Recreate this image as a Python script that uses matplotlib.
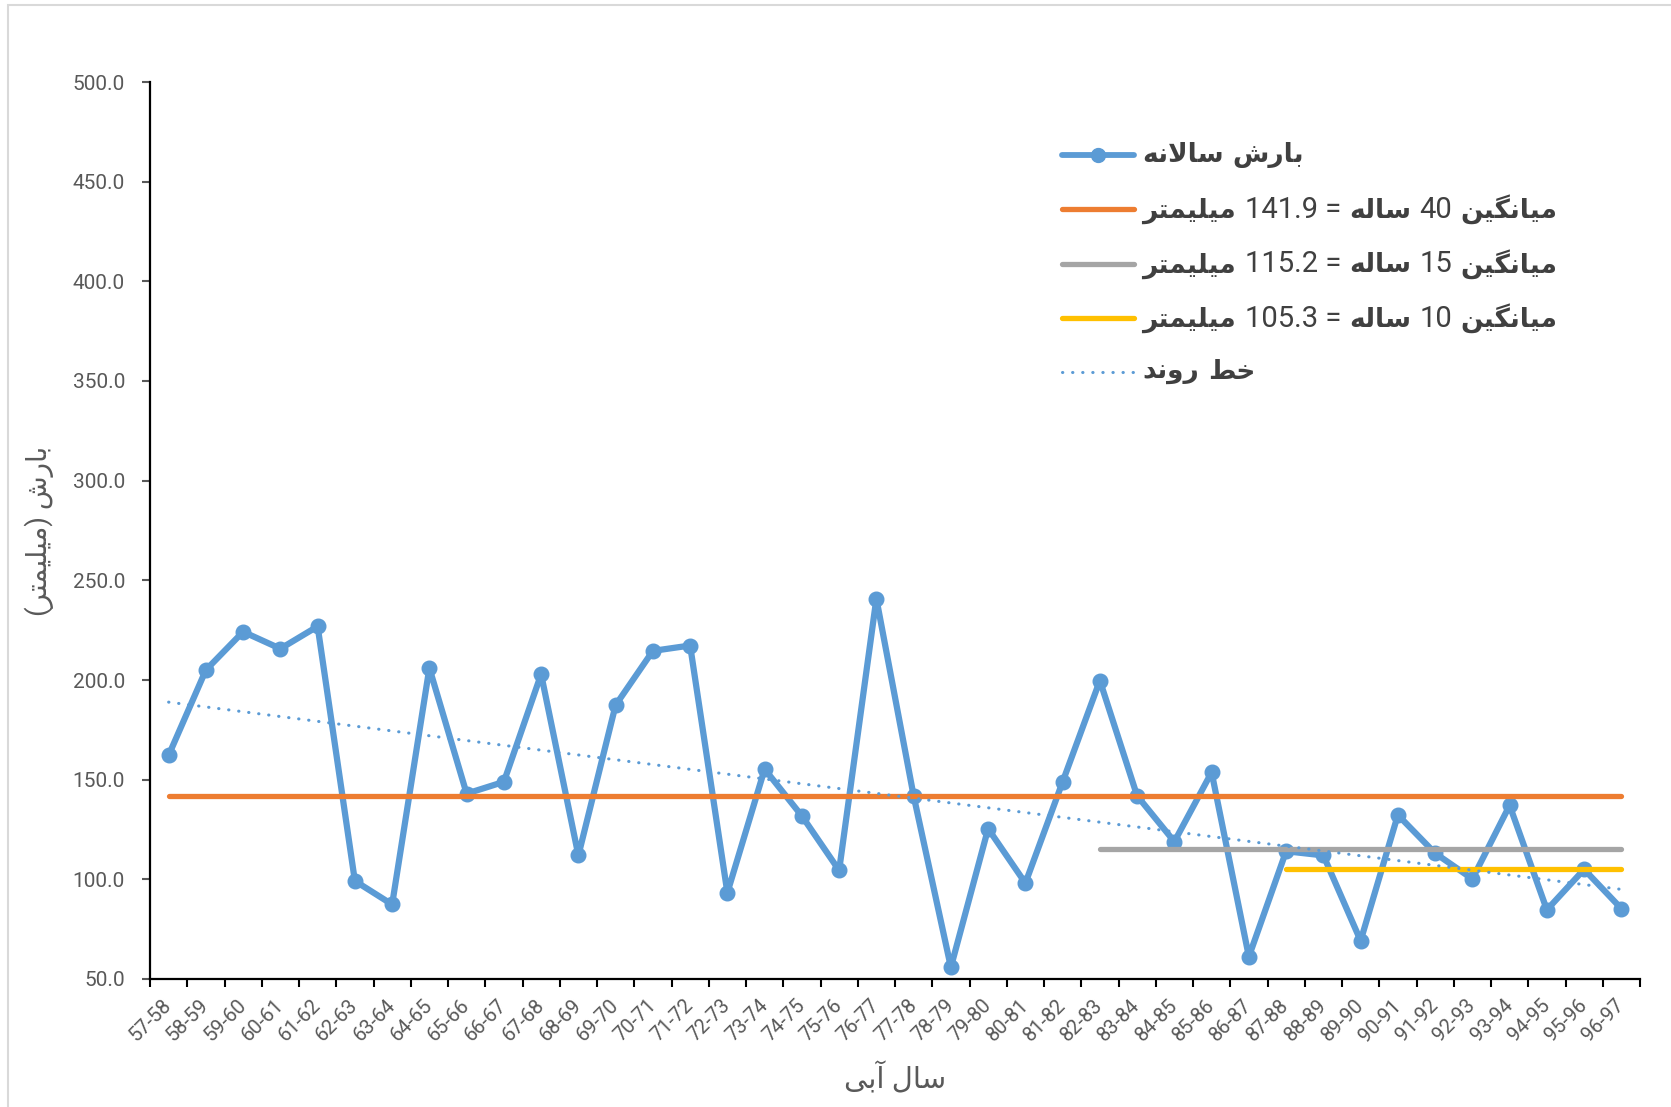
import numpy as np
import matplotlib
matplotlib.use('Agg')
import matplotlib.pyplot as plt
from matplotlib.ticker import FormatStrFormatter
from matplotlib.offsetbox import HPacker, TextArea, DrawingArea, AnnotationBbox
from matplotlib.lines import Line2D
from matplotlib.patches import Rectangle

# data ```````````````````````````````````````````
years = ['57-58', '58-59', '59-60', '60-61', '61-62', '62-63', '63-64', '64-65',
         '65-66', '66-67', '67-68', '68-69', '69-70', '70-71', '71-72', '72-73',
         '73-74', '74-75', '75-76', '76-77', '77-78', '78-79', '79-80', '80-81',
         '81-82', '82-83', '83-84', '84-85', '85-86', '86-87', '87-88', '88-89',
         '89-90', '90-91', '91-92', '92-93', '93-94', '94-95', '95-96', '96-97']
rain = [162.2, 205.0, 224.2, 215.7, 226.9, 99.2, 87.4, 206.0,
        143.0, 148.9, 202.9, 112.0, 187.4, 214.6, 217.3, 93.3,
        155.3, 131.8, 104.5, 240.8, 141.9, 55.9, 125.4, 98.1,
        148.9, 199.7, 141.9, 118.9, 153.7, 61.2, 114.1, 112.0,
        69.2, 132.3, 113.1, 100.2, 137.1, 84.7, 105.0, 85.3]

mean_values = [141.9, 115.2, 105.3]
mean_spans = [40, 15, 10]
mean_start = ['57-58', '82-83', '87-88']

lbl_rain = 'بارش سالانه'
lbl_mean = 'میانگین {} ساله = {} میلیمتر'
lbl_trend = 'خط روند'
ylab = 'بارش (میلیمتر)'
xlab = 'سال آبی'

# persian shaping (matplotlib has no bidi / joining) ``````````````
FORMS = {  # isolated, final, initial, medial
    '\u0622': ('\uFE81', '\uFE82'),
    '\u0627': ('\uFE8D', '\uFE8E'),
    '\u0628': ('\uFE8F', '\uFE90', '\uFE91', '\uFE92'),
    '\u062A': ('\uFE95', '\uFE96', '\uFE97', '\uFE98'),
    '\u062E': ('\uFEA5', '\uFEA6', '\uFEA7', '\uFEA8'),
    '\u062F': ('\uFEA9', '\uFEAA'),
    '\u0631': ('\uFEAD', '\uFEAE'),
    '\u0633': ('\uFEB1', '\uFEB2', '\uFEB3', '\uFEB4'),
    '\u0634': ('\uFEB5', '\uFEB6', '\uFEB7', '\uFEB8'),
    '\u0637': ('\uFEC1', '\uFEC2', '\uFEC3', '\uFEC4'),
    '\u0644': ('\uFEDD', '\uFEDE', '\uFEDF', '\uFEE0'),
    '\u0645': ('\uFEE1', '\uFEE2', '\uFEE3', '\uFEE4'),
    '\u0646': ('\uFEE5', '\uFEE6', '\uFEE7', '\uFEE8'),
    '\u0647': ('\uFEE9', '\uFEEA', '\uFEEB', '\uFEEC'),
    '\u0648': ('\uFEED', '\uFEEE'),
    '\u06AF': ('\uFB92', '\uFB93', '\uFB94', '\uFB95'),
    '\u06CC': ('\uFBFC', '\uFBFD', '\uFBFE', '\uFBFF'),
}


def is_fa(w):
    return any('\u0600' <= c <= '\u06FF' for c in w)


def shape(word):
    out = []
    prev = False
    i = 0
    while i < len(word):
        c = word[i]
        if c == '\u0644' and i + 1 < len(word) and word[i + 1] == '\u0627':
            out.append('\uFEFC' if prev else '\uFEFB')
            prev = False
            i += 2
            continue
        if c not in FORMS:
            out.append(c)
            prev = False
            i += 1
            continue
        f = FORMS[c]
        nxt = word[i + 1] if i + 1 < len(word) else ''
        nj = len(f) == 4 and nxt in FORMS
        if prev and nj:
            g = f[3]
        elif prev:
            g = f[1]
        elif nj:
            g = f[2]
        else:
            g = f[0]
        out.append(g)
        prev = len(f) == 4
        i += 1
    return ''.join(out)


def vis_word(w):
    return shape(w)[::-1].translate(str.maketrans('()', ')('))


def fa(s):
    return ' '.join(vis_word(w) if is_fa(w) else w for w in reversed(s.split(' ')))


def fa_pieces(s):
    # visual order pieces, (text, is_persian)
    pieces = []
    for w in reversed(s.split(' ')):
        if is_fa(w):
            pieces.append([vis_word(w), True])
        elif pieces and not pieces[-1][1]:
            pieces[-1][0] += ' ' + w
        else:
            pieces.append([w, False])
    return pieces


FAM = ['Roboto', 'DejaVu Sans']
GREY = '#595959'
BLUE = '#5B9BD5'
cols = ['#ED7D31', '#A5A5A5', '#FFC000']

fig = plt.figure(figsize=(16.71, 11.07), dpi=100)
fig.patches.append(Rectangle((8 / 1671, -0.1), 1.0, 1.1 - 5 / 1107, transform=fig.transFigure,
                             fill=False, edgecolor='#d9d9d9', lw=1.5))
ax = fig.add_axes([150 / 1671, 128 / 1107, 1490 / 1671, 897 / 1107])

x = np.arange(len(years))
ax.plot(x, rain, color=BLUE, lw=4.5, marker='o', ms=10.5, zorder=2)

for m, n, s, c in zip(mean_values, mean_spans, mean_start, cols):
    i0 = years.index(s)
    ax.plot([x[i0], x[-1]], [m, m], color=c, lw=3.8, solid_capstyle='round', zorder=3)

k, b = np.polyfit(x, rain, 1)
ax.plot(x[[0, -1]], k * x[[0, -1]] + b, color=BLUE, lw=2.2, linestyle=(0, (0.1, 3.2)),
        dash_capstyle='round', zorder=4)

ax.set_xlim(-0.5, len(years) - 0.5)
ax.set_ylim(50, 500)
ax.set_yticks(np.arange(50, 501, 50))
ax.yaxis.set_major_formatter(FormatStrFormatter('%.1f'))
ax.set_xticks(x)
ax.set_xticklabels(years, rotation=45, ha='right', va='center', rotation_mode='anchor')
ax.set_xticks(np.arange(-0.5, len(years)), minor=True)
ax.tick_params(axis='x', which='major', length=0, pad=17, labelsize=14.5, labelcolor=GREY)
ax.tick_params(axis='x', which='minor', length=6, width=1.5, color='black')
ax.tick_params(axis='y', length=6, width=1.5, color=GREY, pad=12, labelsize=15, labelcolor=GREY)
for t in ax.get_xticklabels() + ax.get_yticklabels():
    t.set_family(FAM)
for sp in ['top', 'right']:
    ax.spines[sp].set_visible(False)
for sp in ['left', 'bottom']:
    ax.spines[sp].set_linewidth(1.6)
    ax.spines[sp].set_color('black')

ax.set_ylabel(fa(ylab), fontsize=20, color=GREY, family=FAM)
ax.yaxis.set_label_coords(-0.074, 0.5)
ax.yaxis.label.set_va('center')
ax.set_xlabel(fa(xlab), fontsize=21, color=GREY, family=FAM)
ax.xaxis.set_label_coords(0.5, -0.111)
ax.xaxis.label.set_va('center')

# legend rows ````````````````````````````````````
labels = [lbl_rain] + [lbl_mean.format(n, m) for n, m in zip(mean_spans, mean_values)] + [lbl_trend]
handles = [dict(color=BLUE, lw=4.2, marker='o')] + [dict(color=c, lw=3.8) for c in cols] + \
          [dict(color=BLUE, lw=2.2, ls=(0, (0.1, 3.2)))]
for r, (lab, h) in enumerate(zip(labels, handles)):
    da = DrawingArea(52, 20, 0, 0)
    ln = Line2D([0, 52], [10, 10], color=h['color'], lw=h['lw'], ls=h.get('ls', '-'),
                solid_capstyle='round', dash_capstyle='round')
    da.add_artist(ln)
    if 'marker' in h:
        da.add_artist(Line2D([26], [10], color=h['color'], marker='o', ms=10))
    boxes = []
    for txt, isfa in fa_pieces(lab):
        boxes.append(TextArea(txt, textprops=dict(fontsize=19 if isfa else 21, color='#404040',
                                                  fontweight='bold' if isfa else 'normal',
                                                  family=FAM)))
    tb = HPacker(children=boxes, align='baseline', sep=6, pad=0)
    row = HPacker(children=[da, tb], align='center', sep=6, pad=0)
    ab = AnnotationBbox(row, (1062, 1107 - (155 + r * 54.3)), xycoords='figure pixels',
                        box_alignment=(0, 0.5), frameon=False, pad=0)
    fig.add_artist(ab)

fig.savefig('out.png', dpi=100)
